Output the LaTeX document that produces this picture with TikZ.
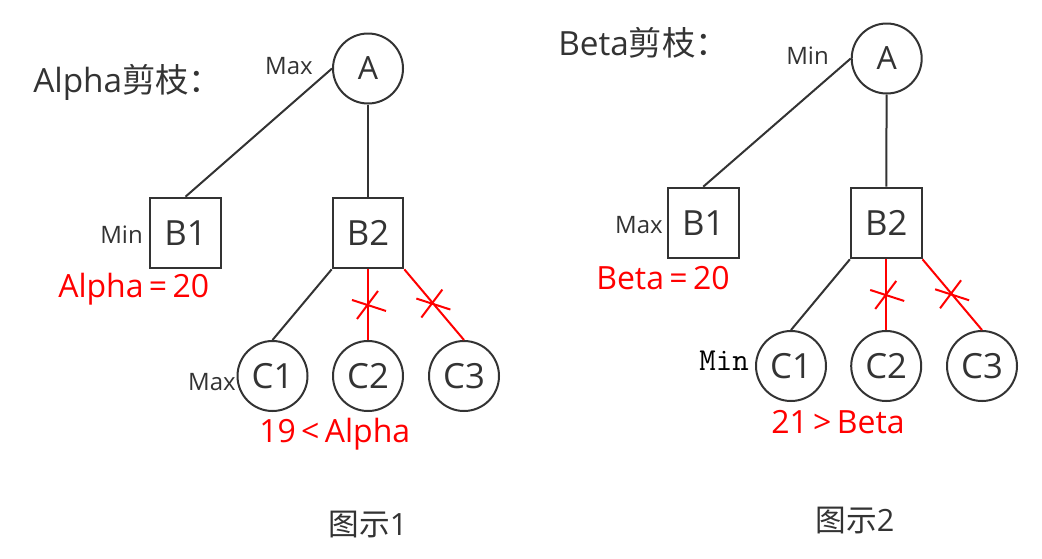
\documentclass[tikz,border=0pt]{standalone}
\usepackage{fontspec}
\setmainfont{Open Sans}
\newfontfamily\cjk{Noto Sans CJK SC}
\definecolor{tg}{HTML}{333333}
\definecolor{rd}{HTML}{FF0000}
\begin{document}
\begin{tikzpicture}[x=0.75pt,y=-0.75pt,
  circ/.style={circle, draw=tg, line width=1.5pt, minimum size=52.5pt, inner sep=0pt, text=tg, font=\fontsize{26}{30}\selectfont},
  topc/.style={circ, font=\fontsize{24}{28}\selectfont},
  sq/.style={rectangle, draw=tg, line width=1.5pt, minimum size=53pt, inner sep=0pt, text=tg, font=\fontsize{26}{30}\selectfont},
  lbl/.style={text=tg, inner sep=0pt, font=\fontsize{18}{22}\selectfont},
  redlbl/.style={text=rd, inner sep=0pt, font=\fontsize{24}{28}\selectfont},
  title/.style={text=tg, inner sep=0pt, font=\fontsize{25}{30}\selectfont},
  caption/.style={text=tg, inner sep=0pt, font=\fontsize{23}{28}\selectfont},
  edge/.style={draw=tg, line width=1.5pt},
  cut/.style={draw=rd, line width=1.5pt}]
\useasboundingbox (0,0) rectangle (1042,558);

% ---------- left: Alpha ----------
\node[title, anchor=west] (t1) at (33,82) {Alpha{\cjk 剪枝：}};
\node[topc] (A1) at (368,68.5) {A};
\node[lbl, anchor=east] (m1) at (313,66) {Max};
\node[sq] (B11) at (185.5,233) {B1};
\node[sq] (B12) at (368,233) {B2};
\node[lbl, anchor=east] (m2) at (143,235) {Min};
\node[redlbl, anchor=west] (r1) at (58,289) {Alpha\,=\,20};
\node[circ] (C11) at (272.5,376) {C1};
\node[circ] (C12) at (368,376) {C2};
\node[circ] (C13) at (464,376) {C3};
\node[lbl, anchor=east] (m3) at (236,382) {Max};
\node[redlbl, anchor=west] (r2) at (259,434) {19\,<\,Alpha};
\node[caption] (cap1) at (368,525) {{\cjk 图示}1};

\draw[edge] (A1.west) -- (B11.north);
\draw[edge] (A1) -- (B12);
\draw[edge] (B12.south west) -- (C11.north);
\draw[cut] (B12.south) -- coordinate[pos=0.49] (x12) (C12.north);
\draw[cut] (B12.south east) -- coordinate[pos=0.47] (x13) (C13.north);
\draw[cut, shift={(x12)}] (-16,-4) -- (18,7) (-11,15) -- (10,-13);
\draw[cut, shift={(x13)}] (-16,-4) -- (18,7) (-11,15) -- (10,-13);

% ---------- right: Beta ----------
\node[title, anchor=west] (t2) at (558,43) {Beta{\cjk 剪枝：}};
\node[topc] (A2) at (886.7,58.5) {A};
\node[lbl, anchor=east] (m4) at (829,56) {Min};
\node[sq] (B21) at (703.3,223) {B1};
\node[sq] (B22) at (886.2,223) {B2};
\node[lbl, anchor=east] (m5) at (663,225) {Max};
\node[redlbl, anchor=west] (r3) at (596,278) {Beta\,=\,20};
\node[circ] (C21) at (791,366) {C1};
\node[circ] (C22) at (886.2,366) {C2};
\node[circ] (C23) at (982,366) {C3};
\node[text=black, inner sep=0pt, anchor=east, font=\ttfamily\fontsize{24}{28}\selectfont] (m6) at (749,361) {Min};
\node[redlbl, anchor=west] (r4) at (771,422) {21\,>\,Beta};
\node[caption] (cap2) at (855,521) {{\cjk 图示}2};

\draw[edge] (A2.west) -- (B21.north);
\draw[edge] (A2) -- (B22);
\draw[edge] (B22.south west) -- (C21.north);
\draw[cut] (B22.south) -- coordinate[pos=0.49] (x22) (C22.north);
\draw[cut] (B22.south east) -- coordinate[pos=0.48] (x23) (C23.north);
\draw[cut, shift={(x22)}] (-16,-4) -- (18,7) (-11,15) -- (10,-13);
\draw[cut, shift={(x23)}] (-16,-4) -- (18,7) (-11,15) -- (10,-13);
\end{tikzpicture}
\end{document}
